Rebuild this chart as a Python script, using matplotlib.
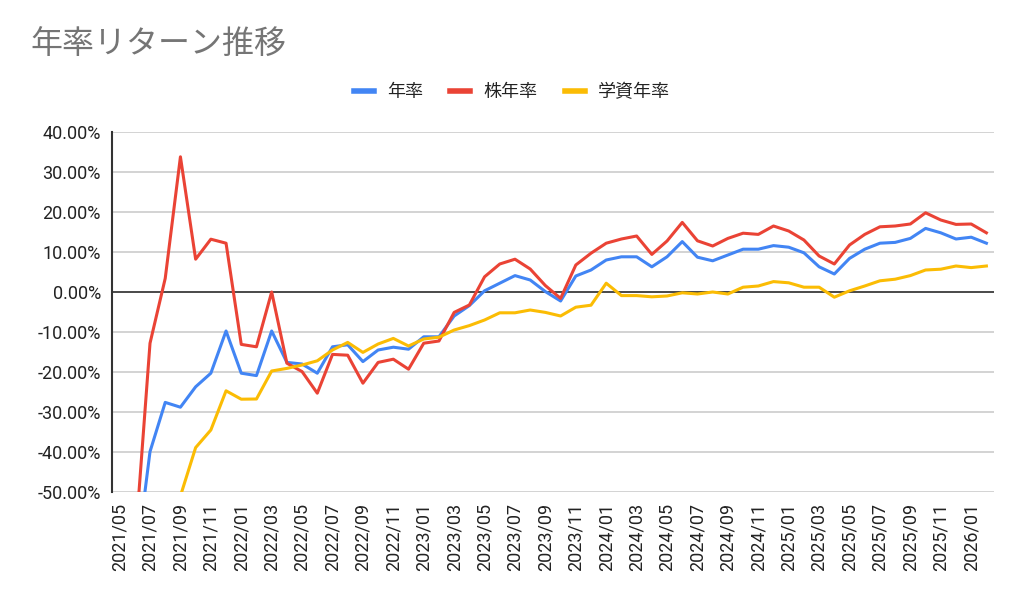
import numpy as np
import matplotlib
matplotlib.use("Agg")
import matplotlib.pyplot as plt
from matplotlib.ticker import FuncFormatter

plt.rcParams['font.family'] = ['Roboto', 'Noto Sans CJK JP', 'DejaVu Sans']

# months 2021/05 .. 2026/02
months = []
y, m = 2021, 5
while (y, m) <= (2026, 2):
    months.append(f"{y}/{m:02d}")
    m += 1
    if m > 12:
        y, m = y + 1, 1

# 年率 (blue)
annual = [
    -85, -70, -39.9, -27.6, -28.8, -23.7, -20.3, -9.75,
    -20.3, -20.9, -9.75, -17.6, -18.0, -20.3, -13.7, -13.2, -17.4, -14.5, -13.8, -14.3,
    -11.2, -11.2, -6.0, -3.4, 0.3, 2.2, 4.1, 3.0, 0.1, -2.25, 4.0, 5.5,
    8.0, 8.8, 8.8, 6.3, 8.8, 12.6, 8.7, 7.8, 9.25, 10.7, 10.7, 11.6,
    11.2, 9.8, 6.3, 4.5, 8.4, 10.7, 12.2, 12.4, 13.4, 15.9, 14.8, 13.25,
    13.7, 12.2,
]

# 株年率 (red)
stock = [
    -75, -64, -12.8, 3.4, 33.8, 8.2, 13.2, 12.2,
    -13.1, -13.7, 0.0, -17.8, -19.9, -25.3, -15.6, -15.8, -22.8, -17.6, -16.8, -19.3,
    -12.8, -12.25, -5.1, -3.25, 3.8, 7.0, 8.2, 5.75, 1.6, -1.6, 6.75, 9.7,
    12.2, 13.25, 14.0, 9.4, 12.75, 17.4, 12.8, 11.5, 13.4, 14.7, 14.4, 16.5,
    15.25, 13.0, 9.0, 7.0, 11.75, 14.4, 16.3, 16.5, 17.0, 19.8, 18.0, 16.9,
    17.0, 14.8,
]

# 学資年率 (yellow)
edu = [
    -80, -75, -70, -65, -51, -38.9, -34.5, -24.7,
    -26.8, -26.75, -19.75, -19.1, -18.25, -17.2, -14.5, -12.6, -15.1, -13.0, -11.6, -13.5,
    -11.75, -11.3, -9.5, -8.4, -7.0, -5.2, -5.2, -4.5, -5.1, -6.0, -3.8, -3.3,
    2.2, -0.9, -0.9, -1.2, -1.0, -0.2, -0.5, 0.0, -0.5, 1.2, 1.5, 2.6,
    2.3, 1.2, 1.2, -1.3, 0.3, 1.5, 2.8, 3.2, 4.1, 5.5, 5.7, 6.5,
    6.1, 6.5,
]

x = np.arange(len(months))

fig = plt.figure(figsize=(10.24, 6.03), dpi=100)
ax = fig.add_axes([112/1024, 1 - 492/603, (994 - 112)/1024, (492 - 132)/603])

ax.plot(x, annual, color="#4285F4", lw=2.2, label="年率", solid_joinstyle="round")
ax.plot(x, stock, color="#EA4335", lw=2.2, label="株年率", solid_joinstyle="round")
ax.plot(x, edu, color="#FBBC04", lw=2.2, label="学資年率", solid_joinstyle="round")

ax.set_ylim(-50, 40)
ax.set_yticks(np.arange(-50, 41, 10))
ax.yaxis.set_major_formatter(FuncFormatter(lambda v, p: f"{v:.2f}%"))
ax.set_xlim(-0.5, len(months) - 0.5)
ax.set_xticks(x[::2])
ax.set_xticklabels(months[::2], rotation=90)

ax.grid(axis="y", color="#cccccc", lw=1.2)
ax.set_axisbelow(True)
ax.axhline(0, color="#333333", lw=1.2, zorder=1.5)
ax.tick_params(length=0, labelsize=13, colors="#222222", pad=8)
for s in ["top", "right", "bottom"]:
    ax.spines[s].set_visible(False)
ax.spines["left"].set_color("#333333")
ax.spines["left"].set_linewidth(1.5)

fig.text(30/1024, 1 - 45/603, "年率リターン推移", fontsize=23, color="#757575", va="center")

ax.legend(loc="center", bbox_to_anchor=(0.5, 1 - 92/603), bbox_transform=fig.transFigure,
          ncol=3, frameon=False, fontsize=13, handlelength=1.1, handletextpad=0.75,
          columnspacing=1.5, labelcolor="#222222")
for line in ax.get_legend().get_lines():
    line.set_linewidth(4)

fig.savefig("out.png", dpi=100)
